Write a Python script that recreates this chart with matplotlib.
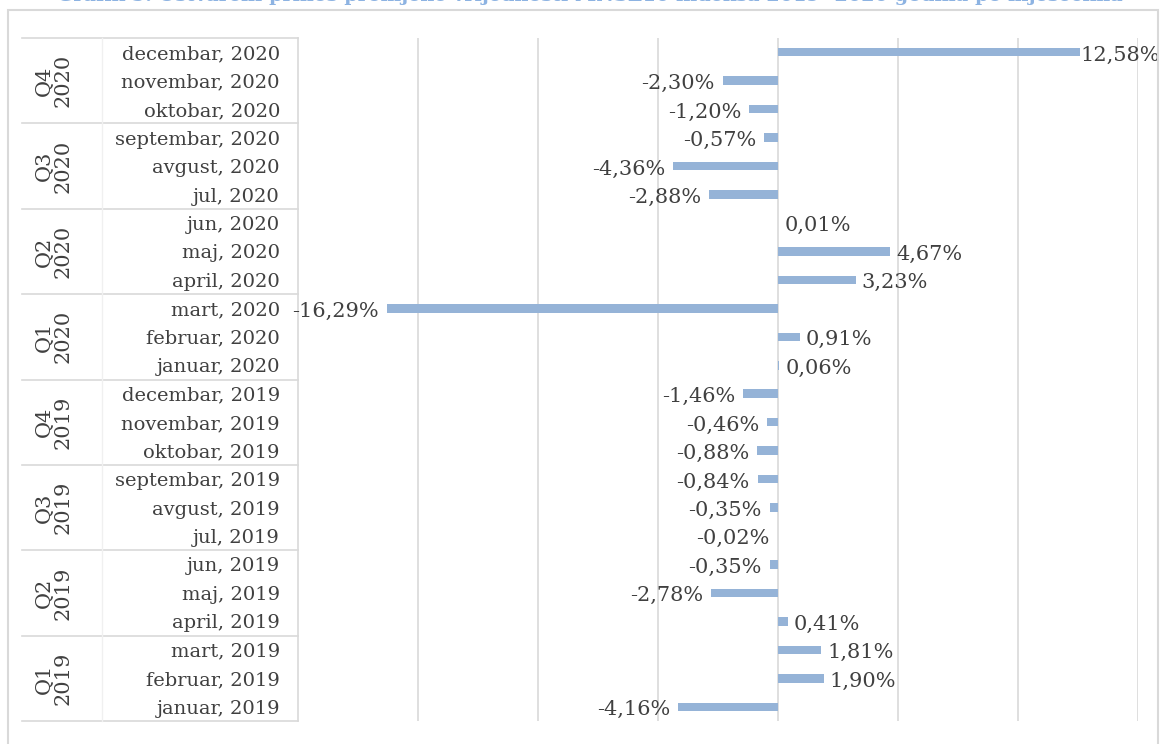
import matplotlib
matplotlib.use("Agg")
import matplotlib.pyplot as plt
from matplotlib.patches import Rectangle
from matplotlib.transforms import blended_transform_factory

# months bottom to top (januar 2019 .. decembar 2020)
months = ["januar", "februar", "mart", "april", "maj", "jun",
          "jul", "avgust", "septembar", "oktobar", "novembar", "decembar"]
years = ["2019", "2020"]
values_2019 = [-4.16, 1.90, 1.81, 0.41, -2.78, -0.35, -0.02, -0.35, -0.84, -0.88, -0.46, -1.46]
values_2020 = [0.06, 0.91, -16.29, 3.23, 4.67, 0.01, -2.88, -4.36, -0.57, -1.20, -2.30, 12.58]
quarters = ["Q1", "Q2", "Q3", "Q4"]
title = "Grafik 5. Ostvareni prinos promjene vrijednosti MNSE10 indeksa 2019- 2020 godina po mjesecima"

labels = [f"{m}, {y}" for y in years for m in months]
values = values_2019 + values_2020

W, H = 1163, 744
BAR = "#95B3D7"
TXT = "#404040"
GRID = "#D9D9D9"
FONT = "DejaVu Serif"

fig = plt.figure(figsize=(W / 100, H / 100), dpi=100)
fig.patches.append(Rectangle((8 / W, -0.05), 1150 / W, 1.05 - 10 / H,
                             transform=fig.transFigure, fill=False,
                             edgecolor=GRID, linewidth=1.5))
# title is cut off at the top edge, like in the source document
fig.text(590 / W, 1.0 + 4 / H, title, ha="center", va="center", fontsize=13.9,
         fontweight="bold", color="#8DB3E2", family=FONT)

ax = fig.add_axes([298 / W, 1 - 721 / H, (1138 - 298) / W, (721 - 38) / H])
pos = list(range(len(values)))
ax.barh(pos, values, height=0.3, color=BAR, zorder=3)
ax.set_xlim(-20, 15)
ax.set_ylim(-0.5, len(values) - 0.5)
ax.set_xticks([-15, -10, -5, 0, 5, 10, 15])
ax.grid(axis="x", color=GRID, linewidth=1.2, zorder=0)
ax.tick_params(axis="x", length=0, labelbottom=False)
ax.tick_params(axis="y", length=0)
ax.set_yticks(pos)
ax.set_yticklabels(labels, fontsize=14, color=TXT, family=FONT)
ax.tick_params(axis="y", pad=13)
for s in ["top", "right", "bottom"]:
    ax.spines[s].set_visible(False)
ax.spines["left"].set_color(GRID)
ax.spines["left"].set_linewidth(1.2)

# data labels
px = 35 / (1138 - 298)  # percent per pixel
for p, v in zip(pos, values):
    txt = f"{v:.2f}%".replace(".", ",")
    if v < 0:
        ax.text(v - 8 * px, p - 0.1, txt, ha="right", va="center",
                fontsize=15, color=TXT, family=FONT)
    else:
        off = 1 if v > 10 else 6  # long bar: label squeezed against the edge
        ax.text(v + off * px, p - 0.1, txt, ha="left", va="center",
                fontsize=15, color=TXT, family=FONT)

# quarter groups on the category axis
tr = blended_transform_factory(fig.transFigure, ax.transData)
x0, x1 = 22 / W, 298 / W
for g in range(8):
    lo = g * 3 - 0.5
    ax.plot([x0, x1], [lo, lo], transform=tr, color=GRID, linewidth=1.2,
            clip_on=False)
    q = quarters[g % 4]
    y = years[g // 4]
    ax.text(54 / W, g * 3 + 1, f"{q}\n{y}", transform=tr, rotation=90,
            ha="center", va="center", fontsize=15, color=TXT, family=FONT,
            linespacing=1.0)
ax.plot([x0, x1], [23.5, 23.5], transform=tr, color=GRID, linewidth=1.2,
        clip_on=False)
ax.plot([102 / W, 102 / W], [-0.5, 23.5], transform=tr, color="#F0F0F0",
        linewidth=1, clip_on=False)

fig.savefig("out.png", dpi=100)
